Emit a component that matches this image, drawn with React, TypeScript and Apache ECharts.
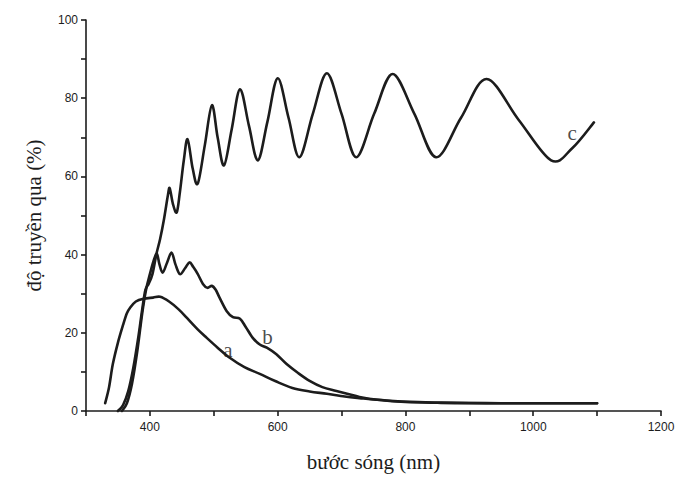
import React, { useEffect, useRef } from "react";
import * as echarts from "echarts";

const curveA: [number, number][] = [
  [330, 2], [336, 6], [342, 12], [350, 17.5], [358, 22], [364, 25], [369, 26.4], [378, 28], [390, 28.7], [405, 29], [416, 29.2], [430, 28], [445, 26], [458, 23.8], [474, 21], [489, 18.7], [506, 16.2], [525, 13.6], [548, 11.2], [572, 9.5], [597, 7.6], [623, 5.9], [650, 5], [677, 4.4], [705, 3.7], [728, 3.3], [770, 2.7], [820, 2.3], [880, 2.1], [950, 2], [1020, 2], [1100, 2],
];

const curveB: [number, number][] = [
  [356, 0], [364, 2], [372, 7], [380, 15], [388, 25], [394, 31], [400, 35], [406, 38.5], [411, 40.2], [415, 37.5], [420, 35.4], [427, 38], [434, 40.5], [440, 37.5], [447, 35], [455, 36.5], [462, 38], [468, 36.8], [475, 35], [483, 32.5], [490, 31.5], [497, 32], [503, 31], [509, 29], [520, 25.6], [530, 24], [541, 23.6], [550, 21.5], [561, 18.7], [572, 17], [583, 16.2], [598, 14.5], [614, 12], [632, 9.7], [650, 7.7], [670, 6.1], [692, 5.1], [728, 3.6], [760, 2.8], [800, 2.3], [850, 2.1], [900, 2], [1000, 2], [1100, 2],
];

const curveC: [number, number][] = [
  [350, 0], [358, 1.5], [366, 5], [374, 11], [382, 19], [388, 26], [393, 31], [398, 32.5], [404, 35], [410, 40], [416, 44], [422, 49], [428, 55], [431, 57], [436, 53], [442, 50.8], [447, 56], [453, 64], [459, 69.5], [467, 62], [475, 58.2], [486, 68], [497, 78.2], [506, 70], [516, 62.8], [528, 72], [541, 82.3], [555, 73], [569, 64.1], [584, 74], [600, 85.1], [617, 75], [634, 64.9], [655, 76], [677, 86.4], [700, 76], [723, 64.9], [751, 76], [780, 86.2], [814, 76], [848, 64.9], [887, 75], [927, 84.9], [977, 74.5], [1028, 64.1], [1061, 67.2], [1095, 73.8],
];

const curveNames = ["a", "b", "c"];
const labelPoints: [number, number][] = [[522, 15.5], [584, 19], [1061, 71]];

const xTicks = [400, 600, 800, 1000, 1200];
const yTicks = [0, 20, 40, 60, 80, 100];

const INK = "#1c1c1c";
const SERIF = "'Liberation Serif', 'DejaVu Serif', serif";
const SANS = "'Liberation Sans', Arial, sans-serif";

function smoothPath(pts: number[][]): string {
  if (pts.length === 0) return "";
  let d = `M${pts[0][0]},${pts[0][1]}`;
  for (let i = 0; i < pts.length - 1; i++) {
    const p0 = pts[i - 1] || pts[i];
    const p1 = pts[i];
    const p2 = pts[i + 1];
    const p3 = pts[i + 2] || p2;
    const c1x = p1[0] + (p2[0] - p0[0]) / 6;
    const c1y = p1[1] + (p2[1] - p0[1]) / 6;
    const c2x = p2[0] - (p3[0] - p1[0]) / 6;
    const c2y = p2[1] - (p3[1] - p1[1]) / 6;
    d += ` C${c1x},${c1y} ${c2x},${c2y} ${p2[0]},${p2[1]}`;
  }
  return d;
}

function curveSeries(name: string, data: [number, number][]) {
  return {
    type: "custom",
    name,
    data: [data[0]],
    encode: { x: 0, y: 1 },
    silent: true,
    z: 3,
    renderItem: (_params: any, api: any) => {
      const pts = data.map((p) => api.coord(p));
      return {
        type: "path",
        shape: { pathData: smoothPath(pts) },
        style: { stroke: INK, lineWidth: 2.6, fill: "none", lineJoin: "round", lineCap: "round" },
      };
    },
  };
}

export default function App() {
  const ref = useRef<HTMLDivElement>(null);
  useEffect(() => {
    if (!ref.current) return;
    const chart = echarts.init(ref.current, undefined, { renderer: "svg" });
    chart.setOption({
      animation: false,
      backgroundColor: "#ffffff",
      grid: { left: 86, right: 19, top: 20, bottom: 65 },
      xAxis: {
        type: "value",
        min: 300,
        max: 1200,
        interval: 100,
        name: "bước sóng (nm)",
        nameLocation: "middle",
        nameGap: 40,
        nameTextStyle: { fontFamily: SERIF, fontSize: 21, color: INK },
        axisLine: { show: true, lineStyle: { color: INK, width: 1.6 } },
        axisTick: { show: true, length: 5, lineStyle: { color: INK, width: 1.6 } },
        axisLabel: {
          color: INK,
          fontFamily: SANS,
          fontSize: 12,
          margin: 10,
          formatter: (v: number) => (xTicks.includes(v) ? String(v) : ""),
        },
        splitLine: { show: false },
      },
      yAxis: {
        type: "value",
        min: 0,
        max: 100,
        interval: 10,
        name: "độ truyền qua (%)",
        nameLocation: "middle",
        nameGap: 42,
        nameRotate: 90,
        nameTextStyle: { fontFamily: SERIF, fontSize: 21, color: INK },
        axisLine: { show: true, lineStyle: { color: INK, width: 1.6 } },
        axisTick: { show: true, length: 5, lineStyle: { color: INK, width: 1.6 } },
        axisLabel: {
          color: INK,
          fontFamily: SANS,
          fontSize: 12,
          margin: 8,
          formatter: (v: number) => (yTicks.includes(v) ? String(v) : ""),
        },
        splitLine: { show: false },
      },
      series: [
        curveSeries("a", curveA),
        curveSeries("b", curveB),
        curveSeries("c", curveC),
        {
          type: "scatter",
          silent: true,
          symbolSize: 0,
          data: labelPoints.map((p, i) => ({ value: p, name: curveNames[i] })),
          label: {
            show: true,
            position: "inside",
            formatter: (p: any) => p.name,
            color: INK,
            fontFamily: SERIF,
            fontSize: 21,
          },
          z: 4,
        },
      ],
    });
    return () => chart.dispose();
  }, []);
  return <div ref={ref} style={{ width: 680, height: 477, position: "absolute", left: 0, top: 0 }} />;
}
